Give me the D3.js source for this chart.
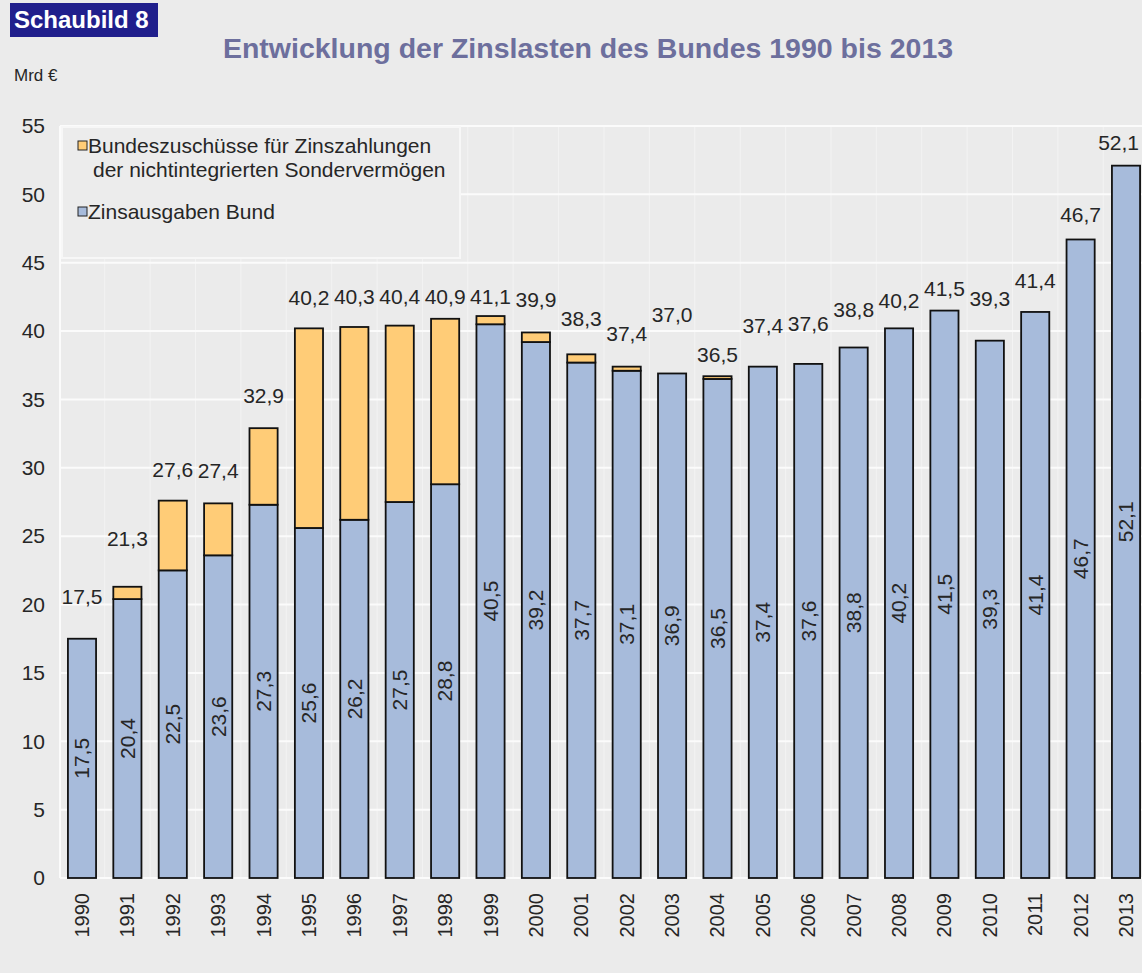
<!DOCTYPE html>
<html>
<head>
<meta charset="utf-8">
<script src="https://cdn.jsdelivr.net/npm/d3@7"></script>
<style>
  body { margin: 0; background: #ebebeb; }
  text { font-family: Arial, "Liberation Sans", sans-serif; }
</style>
</head>
<body>
<div id="chart"></div>
<script>
var years = ["1990","1991","1992","1993","1994","1995","1996","1997","1998","1999","2000","2001",
             "2002","2003","2004","2005","2006","2007","2008","2009","2010","2011","2012","2013"]
var zinsBund = [17.5, 20.4, 22.5, 23.6, 27.3, 25.6, 26.2, 27.5, 28.8, 40.5, 39.2, 37.7,
                37.1, 36.9, 36.5, 37.4, 37.6, 38.8, 40.2, 41.5, 39.3, 41.4, 46.7, 52.1]
var zuschuss = [0, 0.9, 5.1, 3.8, 5.6, 14.6, 14.1, 12.9, 12.1, 0.6, 0.7, 0.6,
                0.3, 0, 0.2, 0, 0, 0, 0, 0, 0, 0, 0, 0]
var totals = ["17,5","21,3","27,6","27,4","32,9","40,2","40,3","40,4","40,9","41,1","39,9","38,3",
              "37,4","37,0","36,5","37,4","37,6","38,8","40,2","41,5","39,3","41,4","46,7","52,1"]
var yTicks = [0, 5, 10, 15, 20, 25, 30, 35, 40, 45, 50, 55]
var seriesNames = ["Bundeszuschüsse für Zinszahlungen", "der nichtintegrierten Sondervermögen", "Zinsausgaben Bund"]

// the sum labels sit at uneven heights in the original (px gap above bar top)
var labelGap = [42, 48, 31, 33, 33, 31, 30, 29, 22, 19, 33, 36,
                33, 59, 22, 41, 40, 38, 28, 22, 42, 31, 25, 23]

var W = 1142, H = 973
var blue = "#a7bbdb", orange = "#ffcc77", ink = "#262626"
var fs = "21px"

var svg = d3.select("#chart").append("svg")
    .attr("width", W).attr("height", H)

svg.append("rect").attr("width", W).attr("height", H).style("fill", "#ebebeb")

var x = d3.scaleBand()
    .domain(years)
    .range([59.3, 1148.7])
    .paddingInner(0.38)
    .paddingOuter(0.19)

var y = d3.scaleLinear()
    .domain([0, 55])
    .range([878, 126])

// gridlines
var grid = svg.append("g")
var step = x.step()
years.forEach(function(yr, i){
  if (i == 0) return
  var bx = x(yr) - step*x.paddingInner()/2
  grid.append("line").attr("x1", bx).attr("x2", bx).attr("y1", y(55)).attr("y2", y(0))
    .style("stroke", "#f3f3f3").style("stroke-width", 1)
})
yTicks.forEach(function(t){
  grid.append("line")
    .attr("x1", 60).attr("x2", W)
    .attr("y1", y(t)).attr("y2", y(t))
    .style("stroke", "#fbfbfb").style("stroke-width", 2)
})
grid.append("line").attr("x1", 60).attr("x2", 60).attr("y1", y(55)).attr("y2", y(0))
  .style("stroke", "#fbfbfb").style("stroke-width", 2)

// y axis labels
var yAxis = d3.axisLeft(y).tickValues(yTicks).tickSize(0).tickPadding(0)
var gy = svg.append("g").attr("transform", "translate(45,0)").call(yAxis)
gy.select(".domain").remove()
gy.selectAll("text").style("font-size", fs).style("fill", ink)
  .style("font-family", "Arial, 'Liberation Sans', sans-serif")

// x axis labels
var xAxis = d3.axisBottom(x).tickSize(0).tickPadding(0)
var gx = svg.append("g").attr("transform", "translate(0,893)").call(xAxis)
gx.select(".domain").remove()
gx.selectAll("text")
  .attr("transform", "rotate(-90)")
  .attr("x", 0).attr("y", 0).attr("dy", "0.35em")
  .style("text-anchor", "end")
  .style("font-size", "20px").style("fill", ink)
  .style("font-family", "Arial, 'Liberation Sans', sans-serif")

// legend box (hides the 50 gridline)
var leg = svg.append("g")
leg.append("rect").attr("x", 62).attr("y", 127).attr("width", 398).attr("height", 131)
  .style("fill", "#ececec").style("stroke", "#f7f7f7").style("stroke-width", 2)
leg.append("rect").attr("x", 78).attr("y", 141).attr("width", 9).attr("height", 9)
  .style("fill", orange).style("stroke", "#222").style("stroke-width", 1)
leg.append("rect").attr("x", 78).attr("y", 207).attr("width", 9).attr("height", 9)
  .style("fill", blue).style("stroke", "#222").style("stroke-width", 1)
leg.append("text").attr("x", 88).attr("y", 153).text(seriesNames[0])
  .style("font-size", fs).style("fill", ink)
leg.append("text").attr("x", 93).attr("y", 177).text(seriesNames[1])
  .style("font-size", fs).style("fill", ink)
leg.append("text").attr("x", 88).attr("y", 219).text(seriesNames[2])
  .style("font-size", fs).style("fill", ink)

// bars
var bars = svg.append("g")
years.forEach(function(yr, i){
  var b = zinsBund[i], z = zuschuss[i]
  bars.append("rect")
    .attr("x", x(yr)).attr("width", x.bandwidth())
    .attr("y", y(b)).attr("height", y(0) - y(b))
    .style("fill", blue).style("stroke", "#111").style("stroke-width", 1.8)
  if (z > 0) {
    bars.append("rect")
      .attr("x", x(yr)).attr("width", x.bandwidth())
      .attr("y", y(b + z)).attr("height", y(b) - y(b + z))
      .style("fill", orange).style("stroke", "#111").style("stroke-width", 1.8)
  }
  // value inside blue segment
  var cx = x(yr) + x.bandwidth()/2, cy = y(b/2)
  bars.append("text")
    .attr("transform", "translate(" + cx + "," + cy + ") rotate(-90)")
    .attr("text-anchor", "middle").attr("dy", "0.35em")
    .text(String(b.toFixed(1)).replace(".", ","))
    .style("font-size", fs).style("fill", ink)
  // total above bar, kept inside the page at the right edge
  var t = bars.append("text")
    .attr("x", cx).attr("y", y(b + z) - labelGap[i])
    .attr("text-anchor", "middle").attr("dy", "0.35em")
    .text(totals[i])
    .style("font-size", fs).style("fill", ink)
  var half = t.node().getComputedTextLength()/2
  if (cx + half > W - 3) t.attr("x", W - 3 - half)
})

// header
svg.append("rect").attr("x", 10).attr("y", 3).attr("width", 148).attr("height", 34)
  .style("fill", "#201f8c")
svg.append("text").attr("x", 14).attr("y", 28).text("Schaubild 8")
  .style("font-size", "24px").style("font-weight", "bold").style("fill", "white")
svg.append("text").attr("x", 588).attr("y", 58).attr("text-anchor", "middle")
  .text("Entwicklung der Zinslasten des Bundes 1990 bis 2013")
  .style("font-size", "28.5px").style("font-weight", "bold").style("fill", "#6d6f9d")
svg.append("text").attr("x", 14).attr("y", 81).text("Mrd €")
  .style("font-size", "17px").style("fill", ink)
</script>
</body>
</html>
